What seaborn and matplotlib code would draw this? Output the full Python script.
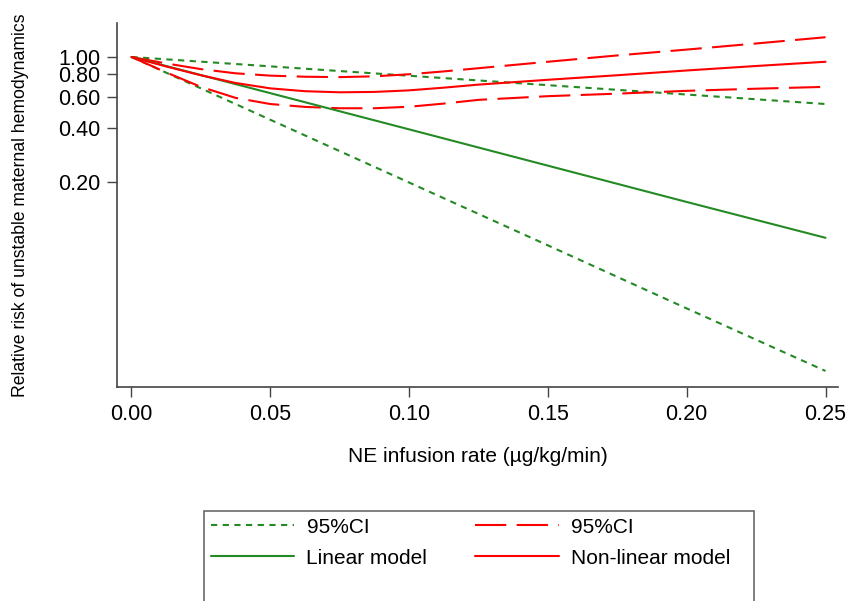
import numpy as np
import matplotlib
matplotlib.use('Agg')
import matplotlib.pyplot as plt
from matplotlib.lines import Line2D
import seaborn as sns

# Linear model (log-linear) and its 95% CI
x_lin = [0.0, 0.05, 0.10, 0.15, 0.20, 0.25]
rr_lin = [1.0, 0.627, 0.393, 0.246, 0.154, 0.097]
lin_lo = [1.0, 0.445, 0.198, 0.088, 0.039, 0.0174]
lin_hi = [1.0, 0.886, 0.785, 0.695, 0.616, 0.545]

# Non-linear model (spline) and its 95% CI
x_nl = [0.0, 0.0125, 0.025, 0.0375, 0.05, 0.0625, 0.075, 0.0875, 0.10, 0.1125,
        0.125, 0.15, 0.175, 0.20, 0.225, 0.25]
rr_nl = [1.0, 0.885, 0.79, 0.715, 0.667, 0.643, 0.634, 0.637, 0.65, 0.673,
         0.70, 0.745, 0.79, 0.84, 0.89, 0.94]
nl_lo = [1.0, 0.82, 0.68, 0.59, 0.545, 0.525, 0.516, 0.516, 0.526, 0.548,
         0.575, 0.603, 0.623, 0.646, 0.664, 0.68]
nl_hi = [1.0, 0.92, 0.855, 0.81, 0.786, 0.775, 0.771, 0.779, 0.80, 0.83,
         0.865, 0.94, 1.02, 1.10, 1.19, 1.29]

y_ticks = [0.2, 0.4, 0.6, 0.8, 1.0]
x_ticks = [0.0, 0.05, 0.10, 0.15, 0.20, 0.25]

sns.set_style('ticks')
plt.rcParams['font.family'] = ['Liberation Sans', 'DejaVu Sans']
plt.rcParams['text.color'] = 'black'
plt.rcParams['axes.labelcolor'] = 'black'
plt.rcParams['xtick.color'] = 'black'
plt.rcParams['ytick.color'] = 'black'

green = '#248a24'
red = '#ff0000'
dotted = (0, (3.0, 2.6))
dashed = (0, (15, 5))

fig = plt.figure(figsize=(8.46, 6.01), dpi=100)
ax = fig.add_axes([117/846, 1 - 387/601, (838 - 117)/846, (387 - 23)/601])

sns.lineplot(x=x_lin, y=lin_hi, ax=ax, color=green, lw=1.5, linestyle=dotted)
sns.lineplot(x=x_lin, y=lin_lo, ax=ax, color=green, lw=1.5, linestyle=dotted)
sns.lineplot(x=x_nl, y=nl_hi, ax=ax, color=red, lw=1.5, linestyle=dashed)
sns.lineplot(x=x_nl, y=nl_lo, ax=ax, color=red, lw=1.5, linestyle=dashed)
sns.lineplot(x=x_lin, y=rr_lin, ax=ax, color=green, lw=1.5)
sns.lineplot(x=x_nl, y=rr_nl, ax=ax, color=red, lw=1.5)

ax.set_yscale('log')
ax.set_ylim(0.01415, 1.55)
ax.set_xlim(-0.0052, 0.2545)
ax.set_yticks(y_ticks)
ax.set_yticklabels([f'{v:.2f}' for v in y_ticks])
ax.yaxis.set_minor_locator(matplotlib.ticker.NullLocator())
ax.set_xticks(x_ticks)
ax.set_xticklabels([f'{v:.2f}' for v in x_ticks])
ax.tick_params(axis='both', labelsize=15.5, length=7, width=1, color='#444444',
               labelcolor='black', pad=5)

for side in ['top', 'right']:
    ax.spines[side].set_visible(False)
for side in ['left', 'bottom']:
    ax.spines[side].set_color('#444444')
    ax.spines[side].set_linewidth(1.2)

ax.set_ylabel('Relative risk of unstable maternal hemodynamics', fontsize=12.7)
ax.yaxis.set_label_coords(-0.122, 0.5)
ax.set_xlabel('NE infusion rate (µg/kg/min)', fontsize=15)
ax.xaxis.set_label_coords(0.5, -0.165)

blank = Line2D([], [], color='none')
handles = [
    Line2D([], [], color=green, lw=1.5, linestyle=dotted),
    Line2D([], [], color=green, lw=1.5),
    blank,
    Line2D([], [], color=red, lw=1.5, linestyle=dashed),
    Line2D([], [], color=red, lw=1.5),
    blank,
]
labels = ['95%CI', 'Linear model', ' ', '95%CI', 'Non-linear model   ', ' ']
leg = fig.legend(handles, labels, ncol=2, loc='upper left',
                 bbox_to_anchor=(194/846, 1 - 501/601), fontsize=15,
                 handlelength=4, handletextpad=0.6, columnspacing=2.3,
                 labelspacing=0.58, borderpad=0.3, frameon=True, fancybox=False)
leg.get_frame().set_edgecolor('#444444')
leg.get_frame().set_linewidth(1.2)

fig.savefig('out.png', dpi=100)
